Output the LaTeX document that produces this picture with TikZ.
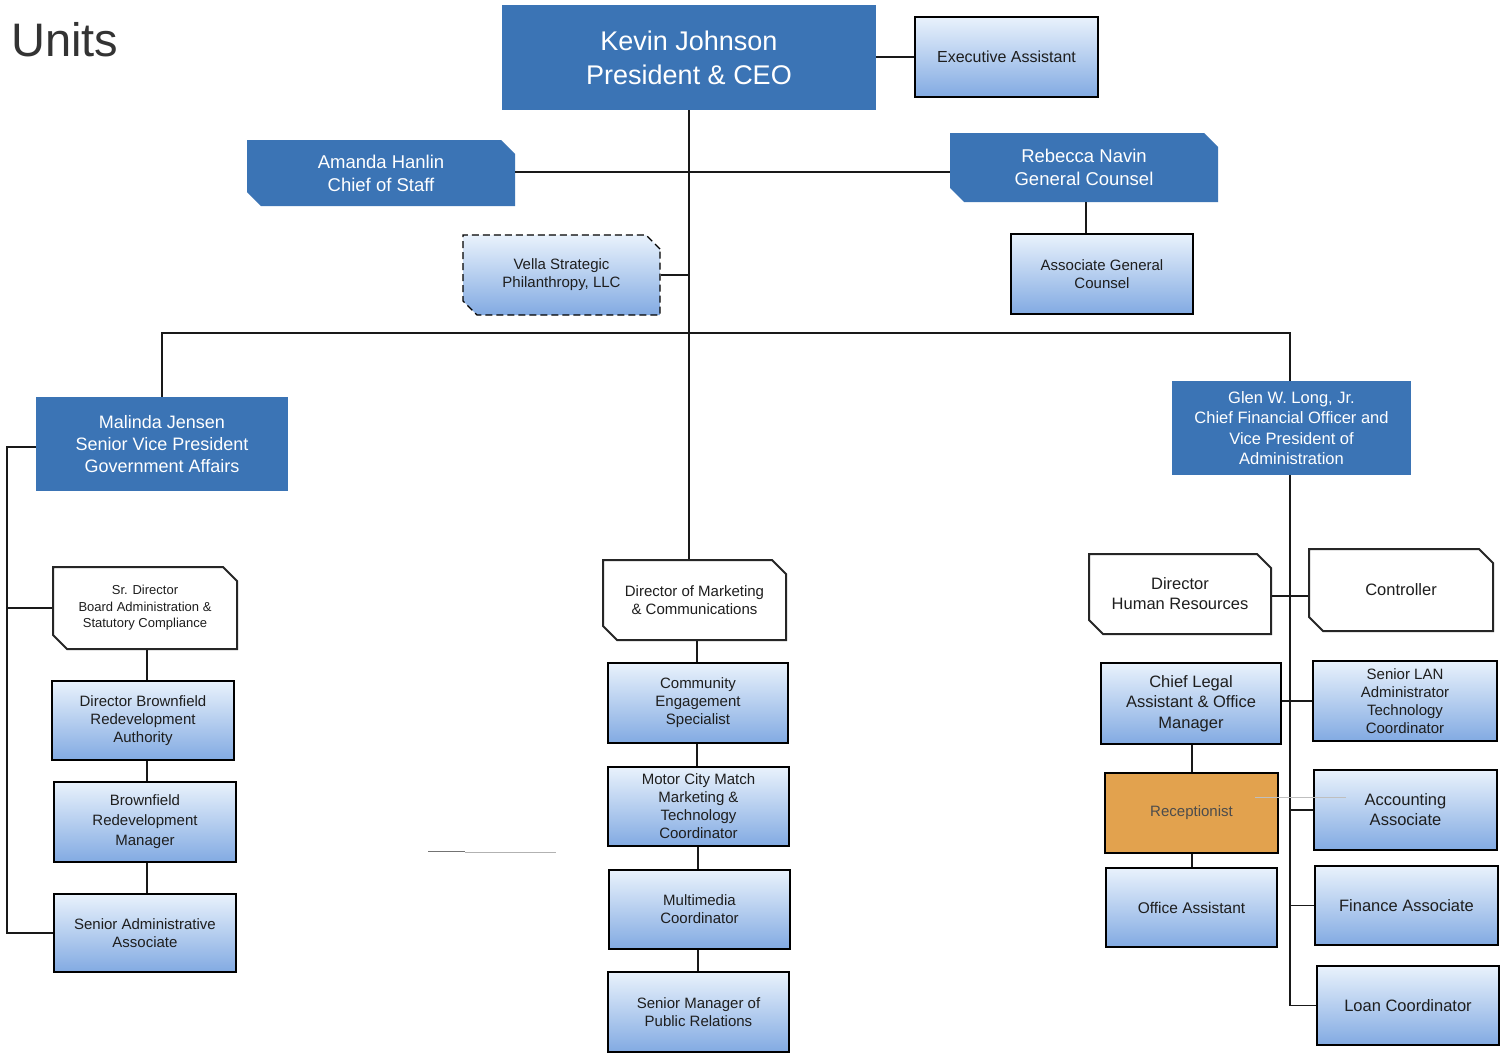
\documentclass[tikz,border=0pt]{standalone}
\usepackage{fontspec}
\setmainfont{Liberation Sans}
\usetikzlibrary{shapes.misc}
\definecolor{dblue}{HTML}{3B74B5}
\definecolor{gtop}{HTML}{E9F2FC}
\definecolor{gbot}{HTML}{82AAE2}
\definecolor{txt}{HTML}{1E1E1E}
\definecolor{orng}{HTML}{E2A24E}
\newcommand{\fsz}[2]{\fontsize{#1}{#2}\selectfont}
\tikzset{
  gbox/.style={rectangle, draw=black, line width=1.4pt, top color=gtop, bottom color=gbot, inner sep=2pt, align=center, text=txt, font=\fsz{15}{18}},
  dbox/.style={rectangle, fill=dblue, text=white, align=center, inner sep=2pt},
  chamf/.style={chamfered rectangle, chamfered rectangle corners={north east,south west}, chamfered rectangle xsep=7pt, chamfered rectangle ysep=7pt},
  wbox/.style={chamf, draw=black!85, line width=2pt, fill=white, align=center, inner sep=2pt, text=txt, font=\fsz{15}{18}},
  conn/.style={draw=black!90, line width=1.8pt},
}
\begin{document}
\begin{tikzpicture}[x=1pt,y=-1pt]
\useasboundingbox (0,0) rectangle (1500,1055);
\fill[white] (0,0) rectangle (1500,1055);

% title
\node[anchor=west, text=black!80, font=\fsz{47}{50}, inner sep=0pt] (title) at (11,40) {Units};

% top level
\node[dbox, minimum width=374pt, minimum height=105pt, font=\fsz{27}{34}] (ceo) at (689,57.5) {Kevin Johnson\\President \& CEO};
\node[gbox, minimum width=183pt, minimum height=80pt, font=\fsz{16}{19}] (exec) at (1006.5,57) {Executive Assistant};
\node[dbox, chamf, minimum width=268pt, minimum height=66pt, font=\fsz{18.5}{23}] (amanda) at (381,173) {Amanda Hanlin\\Chief of Staff};
\node[dbox, chamf, minimum width=268pt, minimum height=69pt, font=\fsz{18.5}{23}] (rebecca) at (1084,167.5) {Rebecca Navin\\General Counsel};
\node[gbox, chamf, dashed, dash pattern=on 7pt off 4pt, minimum width=197pt, minimum height=80pt] (vella) at (561.5,275) {Vella Strategic\\Philanthropy, LLC};
\node[gbox, minimum width=182pt, minimum height=80pt] (agc) at (1102,274) {Associate General\\Counsel};

% second level
\node[dbox, minimum width=252pt, minimum height=94pt, font=\fsz{18}{22}] (malinda) at (162,444) {Malinda Jensen\\Senior Vice President\\Government Affairs};
\node[dbox, minimum width=239pt, minimum height=94pt, font=\fsz{16.5}{20.5}] (glen) at (1291.5,428) {Glen W. Long, Jr.\\Chief Financial Officer and\\Vice President of\\Administration};

% left column
\node[wbox, minimum width=184pt, minimum height=82pt, font=\fsz{13}{16.5}] (srdir) at (145,608) {Sr. Director\\Board Administration \&\\Statutory Compliance};
\node[gbox, minimum width=182pt, minimum height=79pt] (dbrown) at (143,720.5) {Director Brownfield\\Redevelopment\\Authority};
\node[gbox, minimum width=182pt, minimum height=80pt, font=\fsz{15}{20}] (bmgr) at (145,822) {Brownfield\\Redevelopment\\Manager};
\node[gbox, minimum width=182pt, minimum height=78pt] (sradmin) at (145,933) {Senior Administrative\\Associate};

% middle column
\node[wbox, minimum width=183pt, minimum height=80pt] (mkt) at (694.5,600) {Director of Marketing\\\& Communications};
\node[gbox, minimum width=180pt, minimum height=80pt] (comm) at (698,703) {Community\\Engagement\\Specialist};
\node[gbox, minimum width=181pt, minimum height=79pt] (motor) at (698.5,806.5) {Motor City Match\\Marketing \&\\Technology\\Coordinator};
\node[gbox, minimum width=181pt, minimum height=79pt] (multi) at (699.5,909.5) {Multimedia\\Coordinator};
\node[gbox, minimum width=181pt, minimum height=80pt] (prmgr) at (698.5,1012) {Senior Manager of\\Public Relations};

% right column
\node[wbox, minimum width=182pt, minimum height=80pt, font=\fsz{16.5}{20}] (hr) at (1180,594) {Director\\Human Resources};
\node[wbox, minimum width=184pt, minimum height=82pt, font=\fsz{16.5}{20}] (ctrl) at (1401,590) {Controller};
\node[gbox, minimum width=180pt, minimum height=81pt, font=\fsz{16.5}{20.5}] (legal) at (1191,703.5) {Chief Legal\\Assistant \& Office\\Manager};
\node[gbox, minimum width=184pt, minimum height=80pt] (lan) at (1405,701) {Senior LAN\\Administrator\\Technology\\Coordinator};
\node[rectangle, draw=black, line width=1.4pt, fill=orng, minimum width=173pt, minimum height=80pt, text=black!70, font=\fsz{15}{18}] (recep) at (1191.5,813) {Receptionist};
\node[gbox, minimum width=183pt, minimum height=80pt, font=\fsz{16.5}{20}] (acct) at (1405.5,810) {Accounting\\Associate};
\node[gbox, minimum width=171pt, minimum height=79pt, font=\fsz{15.5}{19}] (offasst) at (1191.5,907.5) {Office Assistant};
\node[gbox, minimum width=183pt, minimum height=79pt, font=\fsz{16.5}{20}] (fin) at (1406.5,905.5) {Finance Associate};
\node[gbox, minimum width=182pt, minimum height=79pt, font=\fsz{16.5}{20}] (loan) at (1408,1005.5) {Loan Coordinator};

% connectors
\coordinate (bus) at (689,333);
\coordinate (lbus) at (7,447);
\coordinate (gtr) at (1290,0);
\coordinate (rtr) at (1192,0);
\draw[conn] (ceo.east |- exec.west) -- (exec.west);
\draw[conn] (ceo.south) -- (ceo.south |- mkt.north);
\draw[conn] (amanda.east |- 0,172) -- (rebecca.west |- 0,172);
\draw[conn] (vella.east) -- (vella.east -| ceo.south);
\draw[conn] (rebecca.south -| 1086,0) -- (agc.north -| 1086,0);
\draw[conn] (malinda.north) |- (bus) -| (gtr |- glen.north);
\draw[conn] (malinda.west |- lbus) -- (lbus) |- (sradmin.west);
\draw[conn] (lbus |- srdir.west) -- (srdir.west);
\draw[conn] (srdir.south -| 147,0) -- (dbrown.north -| 147,0);
\draw[conn] (dbrown.south -| 147,0) -- (bmgr.north -| 147,0);
\draw[conn] (bmgr.south -| 147,0) -- (sradmin.north -| 147,0);
\draw[conn] (mkt.south -| 697,0) -- (comm.north -| 697,0);
\draw[conn] (comm.south -| 697,0) -- (motor.north -| 697,0);
\draw[conn] (motor.south -| 698,0) -- (multi.north -| 698,0);
\draw[conn] (multi.south -| 698,0) -- (prmgr.north -| 698,0);
\draw[conn] (gtr |- glen.south) -- (gtr |- loan.west) -- (loan.west);
\draw[conn] (hr.east |- 0,596) -- (ctrl.west |- 0,596);
\draw[conn] (legal.east |- 0,701) -- (lan.west |- 0,701);
\draw[conn] (gtr |- acct.west) -- (acct.west);
\draw[conn] (gtr |- fin.west) -- (fin.west);
\draw[conn] (rtr |- legal.south) -- (rtr |- recep.north);
\draw[conn] (rtr |- recep.south) -- (rtr |- offasst.north);

% scan marks
\draw[black!55, line width=1pt] (428,851) -- (465,851);
\draw[black!30, line width=0.8pt] (465,852) -- (556,852);
\draw[black!25, line width=0.6pt] (1255,797) -- (1346,797);
\end{tikzpicture}
\end{document}
